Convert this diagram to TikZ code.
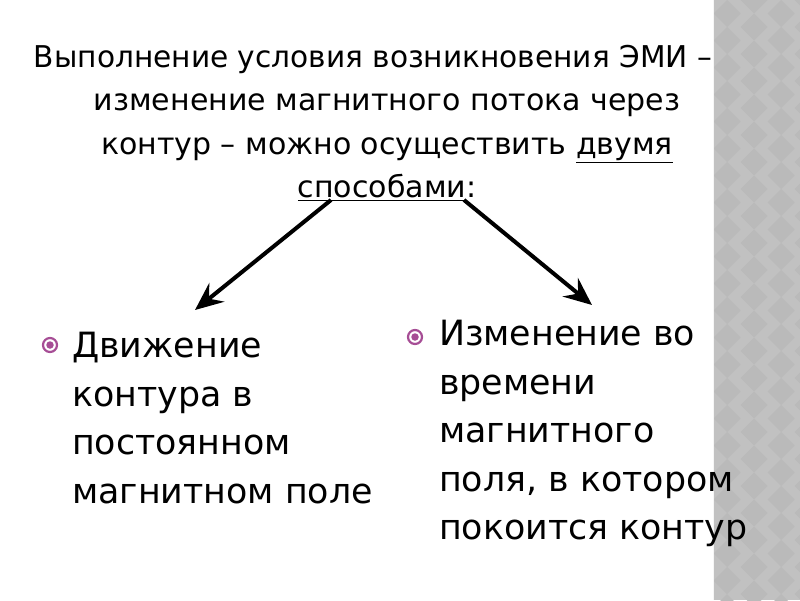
\documentclass[tikz,border=0pt]{standalone}
\usepackage{fontspec}
\setmainfont{DejaVu Sans}
\usetikzlibrary{arrows.meta}
\definecolor{stripbg}{HTML}{C1C1C1}
\definecolor{stripdk}{HTML}{BABABA}
\definecolor{bulletc}{HTML}{A64D95}
\tikzset{
  titletext/.style={align=center, inner sep=0pt, anchor=north, font=\fontsize{30}{43.5}\selectfont},
  bodytext/.style={align=left, inner sep=0pt, anchor=north west, font=\fontsize{34.8}{48.5}\selectfont},
  bigarrow/.style={line width=4pt, -{Stealth[length=28pt,width=24pt,inset=10pt]}},
  bulletring/.style={circle, draw=bulletc, line width=2.2pt, minimum size=14pt, inner sep=0pt},
  bulletdot/.style={circle, fill=bulletc, minimum size=7.5pt, inner sep=0pt}
}
\begin{document}
\begin{tikzpicture}[x=1pt,y=-1pt]
\useasboundingbox (0,0) rectangle (800,600);
\fill[white] (0,0) rectangle (800,600);
% decorative strip
\fill[stripbg] (713,0) rectangle (800,600);
\begin{scope}
\clip (713,0) rectangle (800,600);
\foreach \j in {0,...,23}{
  \foreach \i in {0,...,4}{
    \fill[stripdk] ({700+\i*27-13.5},{\j*27+13.5*mod(\i,2)}) -- ++(13.5,-13.5) -- ++(13.5,13.5) -- ++(-13.5,13.5) -- cycle;
  }
}
\end{scope}
\draw[white!85!stripbg, line width=1pt] (713.5,0) -- (713.5,600);
% title
\node[titletext] (title) at (387,45) {\scalebox{0.987}[1]{Выполнение условия возникновения ЭМИ –}\hspace*{28pt}\\
изменение магнитного потока через\\
контур – можно осуществить \underline{двумя}\\
\underline{способами}:};
% arrows
\coordinate (ls) at (331,200);
\coordinate (le) at (195,310);
\coordinate (rs) at (464,200);
\coordinate (re) at (592,305);
\draw[bigarrow] (ls) -- (le);
\draw[bigarrow] (rs) -- (re);
% bullets
\node[bulletring] (b1) at (50,345) {};
\node[bulletdot] (b1d) at (b1.center) {};
\node[bulletring] (b2) at (415,337) {};
\node[bulletdot] (b2d) at (b2.center) {};
% body texts
\node[bodytext] (left) at (72,332) {Движение\\контура в\\постоянном\\магнитном поле};
\node[bodytext] (right) at (439,320) {Изменение во\\времени\\магнитного\\поля, в котором\\покоится контур};
\end{tikzpicture}
\end{document}
